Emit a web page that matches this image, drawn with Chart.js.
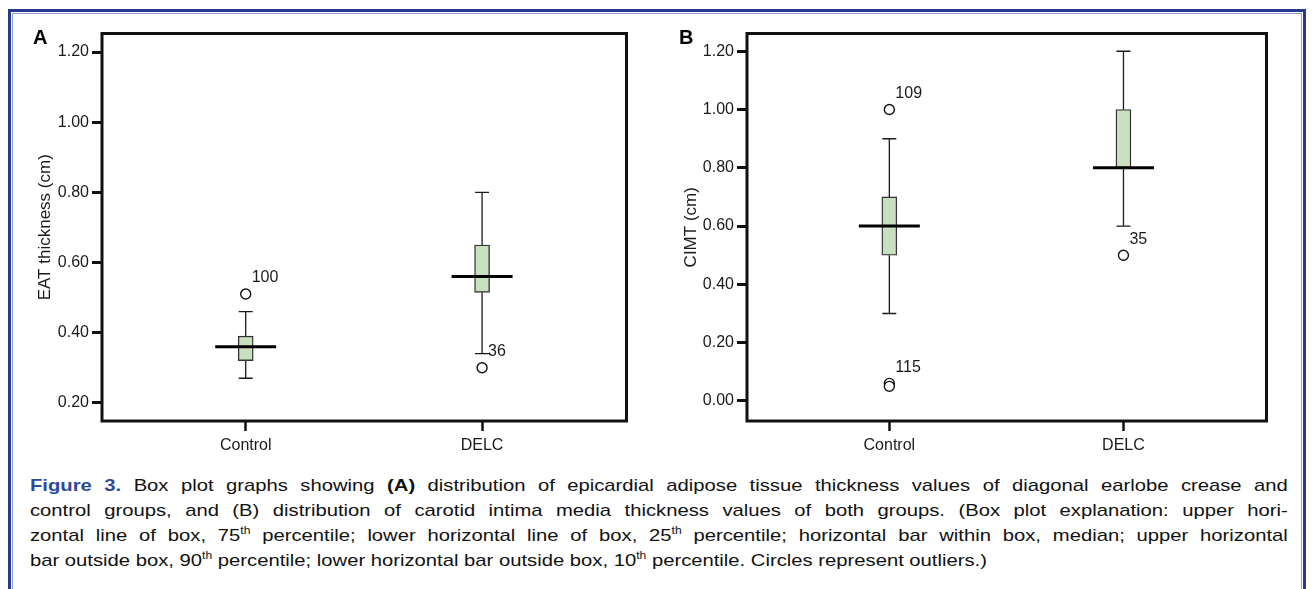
<!DOCTYPE html>
<html><head><meta charset="utf-8">
<script src="https://cdn.jsdelivr.net/npm/chart.js@4.4.0/dist/chart.umd.min.js"></script>
<style>
html,body{margin:0;padding:0;background:#fff;}
body{width:1312px;height:589px;position:relative;overflow:hidden;font-family:"Liberation Sans",Arial,Helvetica,sans-serif;}
#frame{position:absolute;left:8px;top:9px;width:1298px;height:640px;box-sizing:border-box;border:3px solid #26398c;border-bottom:none;}
#frameInner{position:absolute;left:1px;top:1px;right:1px;bottom:0;border:1px solid #8e9bd0;border-bottom:none;}
canvas{position:absolute;top:0;}
#cA{left:0;}
#cB{left:660px;}
.panel{position:absolute;top:27px;font-weight:bold;font-size:20px;line-height:20px;color:#000;}
#caption{position:absolute;left:30px;top:473px;width:1057px;font-size:17px;line-height:25px;color:#111;transform:scaleX(1.19);transform-origin:0 0;}
#caption .ln{text-align:justify;text-align-last:justify;height:25px;white-space:normal;}
#caption .last{text-align:left;text-align-last:left;}
#caption .fig{color:#2c4a9b;font-weight:bold;}
#caption b{font-weight:bold;}
#caption sup{font-size:0.6em;line-height:0;vertical-align:0.7em;}
</style>
</head><body>
<div id="frame"><div id="frameInner"></div></div>
<canvas id="cA" width="660" height="470"></canvas>
<canvas id="cB" width="640" height="470"></canvas>
<div class="panel" style="left:33px;">A</div>
<div class="panel" style="left:679px;">B</div>
<div id="caption">
<div class="ln"><span class="fig">Figure 3.</span> Box plot graphs showing <b>(A)</b> distribution of epicardial adipose tissue thickness values of diagonal earlobe crease and</div>
<div class="ln">control groups, and (B) distribution of carotid intima media thickness values of both groups. (Box plot explanation: upper hori-</div>
<div class="ln">zontal line of box, 75<sup>th</sup> percentile; lower horizontal line of box, 25<sup>th</sup> percentile; horizontal bar within box, median; upper horizontal</div>
<div class="ln last">bar outside box, 90<sup>th</sup> percentile; lower horizontal bar outside box, 10<sup>th</sup> percentile. Circles represent outliers.)</div>
</div>
<script>
// ---- data ----
const categories = ['Control', 'DELC'];
const catPositions = [1, 2];

// Panel A: EAT thickness (cm)
const eatLowWhisker  = [0.27, 0.34];
const eatQ1          = [0.32, 0.515];
const eatMedian      = [0.36, 0.56];
const eatQ3          = [0.39, 0.65];
const eatHighWhisker = [0.46, 0.80];
const eatOutlierGroup = [0, 1];
const eatOutlierValue = [0.51, 0.30];
const eatOutlierLabel = ['100', '36'];
const eatTicks = [0.20, 0.40, 0.60, 0.80, 1.00, 1.20];

// Panel B: CIMT (cm)
const cimtLowWhisker  = [0.30, 0.60];
const cimtQ1          = [0.50, 0.80];
const cimtMedian      = [0.60, 0.80];
const cimtQ3          = [0.70, 1.00];
const cimtHighWhisker = [0.90, 1.20];
const cimtOutlierGroup = [0, 0, 0, 1];
const cimtOutlierValue = [1.00, 0.06, 0.05, 0.50];
const cimtOutlierLabel = ['109', '115', '', '35'];
const cimtTicks = [0.00, 0.20, 0.40, 0.60, 0.80, 1.00, 1.20];

// ---- helpers ----
const FONT = '"Liberation Sans", Arial, Helvetica, sans-serif';
const INK = '#1a1a1a';

function buildDatasets(low, q1, med, q3, high, og, ov, ol) {
  const whiskerPts = [];
  catPositions.forEach((x, i) => {
    whiskerPts.push({x, y: q3[i]}, {x, y: high[i]}, {x, y: null},
                    {x, y: q1[i]}, {x, y: low[i]}, {x, y: null});
  });
  return [
    { type: 'scatter', label: 'outliers',
      data: og.map((g, i) => ({x: catPositions[g], y: ov[i], tag: ol[i]})),
      pointStyle: 'circle', pointRadius: 5, pointBorderWidth: 1.4,
      pointBorderColor: '#111', pointBackgroundColor: '#fff', order: 0 },
    { type: 'scatter', label: 'median',
      data: catPositions.map((x, i) => ({x, y: med[i]})),
      pointStyle: 'line', pointRadius: 30.5, pointBorderWidth: 3,
      pointBorderColor: '#000', order: 0 },
    { type: 'scatter', label: 'caps',
      data: catPositions.flatMap((x, i) => [{x, y: high[i]}, {x, y: low[i]}]),
      pointStyle: 'line', pointRadius: 7, pointBorderWidth: 1.4,
      pointBorderColor: INK, order: 1 },
    { type: 'bar', label: 'box',
      data: catPositions.map((x, i) => ({x, y: [q1[i], q3[i]]})),
      backgroundColor: '#c8dfc0', borderColor: '#333', borderWidth: 1.4,
      borderSkipped: false, barThickness: 15, order: 2 },
    { type: 'line', label: 'whiskers', data: whiskerPts,
      borderColor: INK, borderWidth: 1.3, pointRadius: 0, spanGaps: false,
      fill: false, order: 3 }
  ];
}

const plotFrame = {
  id: 'plotFrame',
  afterDraw(chart) {
    const {ctx, chartArea: a} = chart;
    ctx.save();
    ctx.strokeStyle = '#111';
    ctx.lineWidth = 3;
    ctx.strokeRect(a.left, a.top, a.right - a.left, a.bottom - a.top);
    ctx.restore();
  }
};

const outlierLabels = {
  id: 'outlierLabels',
  afterDatasetsDraw(chart) {
    const ds = chart.data.datasets[0];
    const xs = chart.scales.x, ys = chart.scales.y;
    const ctx = chart.ctx;
    ctx.save();
    ctx.font = '16px ' + FONT;
    ctx.fillStyle = INK;
    ctx.textAlign = 'left';
    ctx.textBaseline = 'middle';
    ds.data.forEach(p => {
      if (!p.tag) return;
      ctx.fillText(p.tag, xs.getPixelForValue(p.x) + 6, ys.getPixelForValue(p.y) - 16);
    });
    ctx.restore();
  }
};

function makeChart(id, cfg) {
  return new Chart(document.getElementById(id), {
    type: 'bar',
    data: { datasets: buildDatasets(...cfg.series) },
    options: {
      responsive: false, animation: false, devicePixelRatio: 1, events: [],
      layout: { padding: { left: 0, right: cfg.padRight, top: 31, bottom: 0 } },
      plugins: { legend: { display: false }, tooltip: { enabled: false } },
      scales: {
        x: {
          type: 'linear', min: 0.392, max: 2.611, offset: false,
          border: { display: false },
          grid: { drawOnChartArea: false, offset: false, tickLength: 10, tickWidth: 2.5, tickColor: '#111' },
          afterBuildTicks: s => { s.ticks = catPositions.map(v => ({value: v})); },
          afterFit: s => { s.height = 49; },
          ticks: { padding: 5, color: INK, font: { family: FONT, size: 16 },
                   maxRotation: 0, autoSkip: false,
                   callback: v => categories[catPositions.indexOf(v)] }
        },
        y: {
          type: 'linear', min: cfg.yMin, max: cfg.yMax, beginAtZero: false,
          border: { display: false },
          grid: { drawOnChartArea: false, tickLength: 10, tickWidth: 3, tickColor: '#111' },
          afterBuildTicks: s => { s.ticks = cfg.ticks.map(v => ({value: v})); },
          afterFit: s => { s.width = cfg.yWidth; },
          ticks: { padding: 3, color: INK, font: { family: FONT, size: 16 },
                   callback: v => Number(v).toFixed(2) },
          title: { display: true, text: cfg.title, color: INK,
                   font: { family: FONT, size: 17 }, padding: { top: cfg.titlePad, bottom: 0 } }
        }
      }
    },
    plugins: [plotFrame, outlierLabels]
  });
}

makeChart('cA', {
  series: [eatLowWhisker, eatQ1, eatMedian, eatQ3, eatHighWhisker, eatOutlierGroup, eatOutlierValue, eatOutlierLabel],
  ticks: eatTicks, yMin: 0.148, yMax: 1.253, yWidth: 102, padRight: 21.5,
  title: 'EAT thickness (cm)', titlePad: 35
});
makeChart('cB', {
  series: [cimtLowWhisker, cimtQ1, cimtMedian, cimtQ3, cimtHighWhisker, cimtOutlierGroup, cimtOutlierValue, cimtOutlierLabel],
  ticks: cimtTicks, yMin: -0.069, yMax: 1.261, yWidth: 87, padRight: 17.5,
  title: 'CIMT (cm)', titlePad: 21
});
</script>
</body></html>
